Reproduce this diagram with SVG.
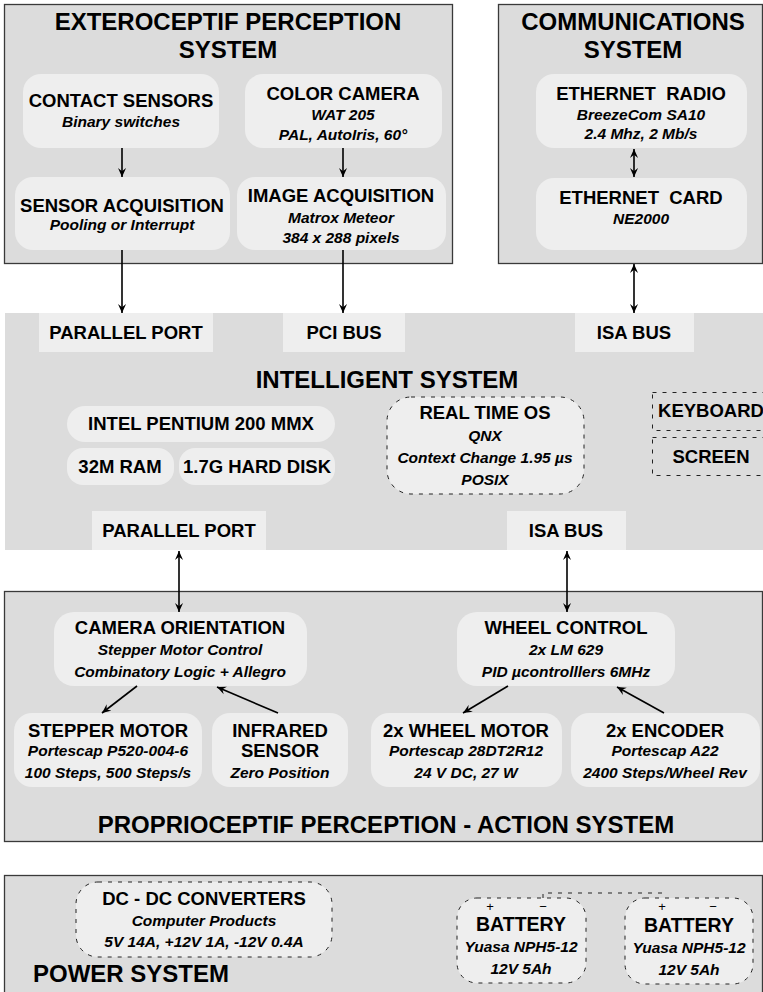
<svg xmlns="http://www.w3.org/2000/svg" width="763" height="992" viewBox="0 0 763 992">
<defs>
<style>
.bg{fill:#fff}
.outer{fill:#dcdcdc;stroke:#3a3a3a;stroke-width:1.3}
.band{fill:#dcdcdc}
.node{fill:#eeeeee}
.port{fill:#eeeeee}
.dnode{fill:#eeeeee;stroke:#222;stroke-width:1;stroke-dasharray:4 6}
.dbox{fill:none;stroke:#222;stroke-width:1;stroke-dasharray:4 6}
.big{font-family:"Liberation Sans",Arial,Helvetica,sans-serif;font-weight:bold;font-size:24px;fill:#000}
.t{font-family:"Liberation Sans",Arial,Helvetica,sans-serif;font-weight:bold;font-size:18.5px;fill:#000;text-anchor:middle}
.s{font-family:"Liberation Sans",Arial,Helvetica,sans-serif;font-weight:bold;font-style:italic;font-size:15.5px;fill:#000;text-anchor:middle}
.pm{font-family:"Liberation Sans",Arial,Helvetica,sans-serif;font-size:13px;fill:#000;text-anchor:middle}
.c{fill:none;stroke:#000;stroke-width:1.6}
.wire{fill:none;stroke:#222;stroke-width:1;stroke-dasharray:4 6}
</style>
<marker id="ah" viewBox="0 0 10 10" refX="10" refY="5" markerWidth="9" markerHeight="9" markerUnits="userSpaceOnUse" orient="auto-start-reverse">
<path d="M0,0.5 L10,5 L0,9.5 L3.5,5 z" fill="#000"/>
</marker>
</defs>
<rect class="bg" x="0" y="0" width="763" height="992"/>

<g id="exteroceptif">
<rect class="outer" x="4.5" y="4.5" width="448" height="259"/>
<text class="big" x="228" y="30" text-anchor="middle">EXTEROCEPTIF PERCEPTION</text>
<text class="big" x="228" y="58" text-anchor="middle">SYSTEM</text>
</g>
<g id="contact-sensors">
<rect class="node" x="23" y="74" width="196" height="74" rx="18"/>
<text class="t" x="121" y="107">CONTACT SENSORS</text>
<text class="s" x="121" y="127">Binary switches</text>
</g>
<g id="color-camera">
<rect class="node" x="245" y="74" width="197" height="74" rx="18"/>
<text class="t" x="343" y="100">COLOR CAMERA</text>
<text class="s" x="343" y="120">WAT 205</text>
<text class="s" x="343" y="140">PAL, AutoIris, 60°</text>
</g>
<g id="sensor-acquisition">
<rect class="node" x="15" y="177" width="215" height="73" rx="18"/>
<text class="t" x="122" y="212">SENSOR ACQUISITION</text>
<text class="s" x="122" y="230">Pooling or Interrupt</text>
</g>
<g id="image-acquisition">
<rect class="node" x="237" y="177" width="209" height="73" rx="18"/>
<text class="t" x="341" y="202">IMAGE ACQUISITION</text>
<text class="s" x="341" y="223">Matrox Meteor</text>
<text class="s" x="341" y="243">384 x 288 pixels</text>
</g>

<g id="communications">
<rect class="outer" x="498.5" y="4.5" width="264" height="259"/>
<text class="big" x="633" y="30" text-anchor="middle">COMMUNICATIONS</text>
<text class="big" x="633" y="58" text-anchor="middle">SYSTEM</text>
</g>
<g id="ethernet-radio">
<rect class="node" x="536" y="74" width="211" height="74" rx="18"/>
<text class="t" x="641" y="100" xml:space="preserve">ETHERNET  RADIO</text>
<text class="s" x="641" y="120">BreezeCom SA10</text>
<text class="s" x="641" y="139">2.4 Mhz, 2 Mb/s</text>
</g>
<g id="ethernet-card">
<rect class="node" x="536" y="178" width="211" height="72" rx="18"/>
<text class="t" x="641" y="204" xml:space="preserve">ETHERNET  CARD</text>
<text class="s" x="641" y="224">NE2000</text>
</g>

<g id="intelligent-system">
<rect class="band" x="5" y="313" width="758" height="237"/>
<text class="big" x="387" y="388" text-anchor="middle">INTELLIGENT SYSTEM</text>
</g>
<g id="parallel-port-top">
<rect class="port" x="39" y="313" width="174" height="39"/>
<text class="t" x="126" y="339">PARALLEL PORT</text>
</g>
<g id="pci-bus">
<rect class="port" x="283" y="313" width="122" height="39"/>
<text class="t" x="344" y="339">PCI BUS</text>
</g>
<g id="isa-bus-top">
<rect class="port" x="575" y="313" width="119" height="39"/>
<text class="t" x="634" y="339">ISA BUS</text>
</g>
<g id="pentium">
<rect class="node" x="67" y="406" width="268" height="36" rx="18"/>
<text class="t" x="201" y="430">INTEL PENTIUM 200 MMX</text>
</g>
<g id="ram">
<rect class="node" x="67" y="448" width="107" height="37" rx="16"/>
<text class="t" x="120" y="473">32M RAM</text>
</g>
<g id="hard-disk">
<rect class="node" x="179" y="448" width="156" height="37" rx="16"/>
<text class="t" x="257" y="473">1.7G HARD DISK</text>
</g>
<g id="real-time-os">
<rect class="dnode" x="387" y="397" width="197" height="97" rx="24"/>
<text class="t" x="485" y="419">REAL TIME OS</text>
<text class="s" x="485" y="441">QNX</text>
<text class="s" x="485" y="463">Context Change 1.95 µs</text>
<text class="s" x="485" y="485">POSIX</text>
</g>
<g id="keyboard">
<rect class="dbox" x="652.5" y="392.5" width="130" height="38"/>
<text class="t" x="711" y="417">KEYBOARD</text>
</g>
<g id="screen">
<rect class="dbox" x="652.5" y="437.5" width="130" height="38"/>
<text class="t" x="711" y="463">SCREEN</text>
</g>
<g id="parallel-port-bottom">
<rect class="port" x="92" y="511" width="174" height="39"/>
<text class="t" x="179" y="537">PARALLEL PORT</text>
</g>
<g id="isa-bus-bottom">
<rect class="port" x="507" y="511" width="119" height="39"/>
<text class="t" x="566" y="537">ISA BUS</text>
</g>

<g id="proprioceptif">
<rect class="outer" x="4.5" y="591.5" width="758" height="250"/>
<text class="big" x="386" y="833" text-anchor="middle">PROPRIOCEPTIF PERCEPTION - ACTION SYSTEM</text>
</g>
<g id="camera-orientation">
<rect class="node" x="54" y="612" width="253" height="74" rx="20"/>
<text class="t" x="180" y="634">CAMERA ORIENTATION</text>
<text class="s" x="180" y="655">Stepper Motor Control</text>
<text class="s" x="180" y="677">Combinatory Logic + Allegro</text>
</g>
<g id="wheel-control">
<rect class="node" x="457" y="612" width="218" height="74" rx="20"/>
<text class="t" x="566" y="634">WHEEL CONTROL</text>
<text class="s" x="566" y="655">2x LM 629</text>
<text class="s" x="566" y="677">PID µcontrolllers 6MHz</text>
</g>
<g id="stepper-motor">
<rect class="node" x="14" y="713" width="188" height="74" rx="18"/>
<text class="t" x="108" y="737">STEPPER MOTOR</text>
<text class="s" x="108" y="756">Portescap P520-004-6</text>
<text class="s" x="108" y="778">100 Steps, 500 Steps/s</text>
</g>
<g id="infrared-sensor">
<rect class="node" x="212" y="713" width="136" height="74" rx="18"/>
<text class="t" x="280" y="737">INFRARED</text>
<text class="t" x="280" y="757">SENSOR</text>
<text class="s" x="280" y="778">Zero Position</text>
</g>
<g id="wheel-motor">
<rect class="node" x="371" y="713" width="191" height="74" rx="18"/>
<text class="t" x="466" y="737">2x WHEEL MOTOR</text>
<text class="s" x="466" y="756">Portescap 28DT2R12</text>
<text class="s" x="466" y="778">24 V DC, 27 W</text>
</g>
<g id="encoder">
<rect class="node" x="571" y="713" width="189" height="74" rx="18"/>
<text class="t" x="665" y="737">2x ENCODER</text>
<text class="s" x="665" y="756">Portescap A22</text>
<text class="s" x="665" y="778">2400 Steps/Wheel Rev</text>
</g>

<g id="power-system">
<rect class="outer" x="4.5" y="875.5" width="758" height="130"/>
<text class="big" x="33" y="982">POWER SYSTEM</text>
</g>
<g id="dc-dc-converters">
<rect class="dnode" x="76" y="882" width="256" height="75" rx="22"/>
<text class="t" x="204" y="905">DC - DC CONVERTERS</text>
<text class="s" x="204" y="926">Computer Products</text>
<text class="s" x="204" y="947">5V 14A, +12V 1A, -12V 0.4A</text>
</g>
<g id="battery-1">
<rect class="dnode" x="457" y="898" width="129" height="85" rx="20"/>
<text class="pm" x="490" y="911">+</text>
<text class="pm" x="543" y="911">−</text>
<text class="t" x="521" y="931" style="font-size:19.5px">BATTERY</text>
<text class="s" x="521" y="952">Yuasa NPH5-12</text>
<text class="s" x="521" y="974">12V 5Ah</text>
</g>
<g id="battery-2">
<rect class="dnode" x="625" y="898" width="128" height="86" rx="20"/>
<text class="pm" x="662" y="911">+</text>
<text class="pm" x="713" y="911">−</text>
<text class="t" x="689" y="932" style="font-size:19.5px">BATTERY</text>
<text class="s" x="689" y="953">Yuasa NPH5-12</text>
<text class="s" x="689" y="975">12V 5Ah</text>
</g>

<g id="connectors">
<line class="c" x1="122" y1="148" x2="122" y2="177" marker-end="url(#ah)"/>
<line class="c" x1="343" y1="148" x2="343" y2="177" marker-end="url(#ah)"/>
<line class="c" x1="122" y1="250" x2="122" y2="313" marker-end="url(#ah)"/>
<line class="c" x1="343" y1="250" x2="343" y2="313" marker-end="url(#ah)"/>
<line class="c" x1="634" y1="149" x2="634" y2="177" marker-start="url(#ah)" marker-end="url(#ah)"/>
<line class="c" x1="634" y1="264" x2="634" y2="313" marker-start="url(#ah)" marker-end="url(#ah)"/>
<line class="c" x1="179" y1="551" x2="179" y2="612" marker-start="url(#ah)" marker-end="url(#ah)"/>
<line class="c" x1="567" y1="551" x2="567" y2="612" marker-start="url(#ah)" marker-end="url(#ah)"/>
<line class="c" x1="137" y1="686" x2="102" y2="713" marker-end="url(#ah)"/>
<line class="c" x1="278" y1="713" x2="217" y2="687" marker-end="url(#ah)"/>
<line class="c" x1="508" y1="686" x2="463" y2="713" marker-end="url(#ah)"/>
<line class="c" x1="664" y1="713" x2="617" y2="687" marker-end="url(#ah)"/>
<polyline class="wire" points="543,898 543,893 662,893 662,898"/>
</g>
</svg>
